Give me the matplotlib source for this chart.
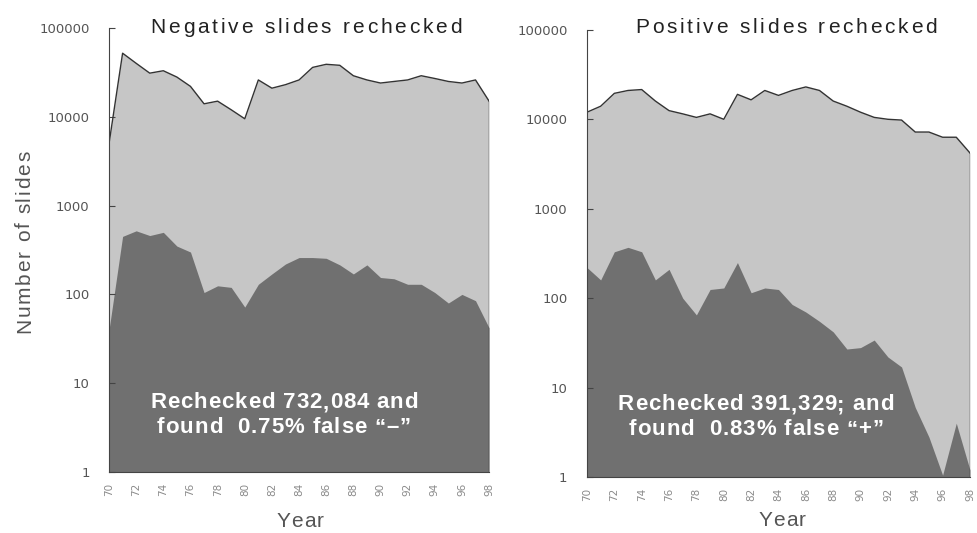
import numpy as np
from matplotlib import pyplot as plt
from matplotlib import font_manager
from matplotlib.ft2font import FT2Font

##########
# Data   #
##########

years = list(range(70, 99))

neg_rechecked = [5000, 52000, 40000, 31000, 33000, 28000, 22000, 14000, 15000, 12000,
                 9500, 26000, 21000, 23000, 26000, 36000, 39000, 38000, 29000, 26000,
                 24000, 25000, 26000, 29000, 27000, 25000, 24000, 26000, 15000]
neg_false = [40, 450, 520, 460, 500, 350, 300, 105, 125, 120,
             72, 130, 170, 220, 260, 260, 255, 215, 170, 215,
             155, 150, 130, 130, 105, 80, 100, 85, 42]

pos_rechecked = [12000, 14000, 19500, 21000, 21500, 16000, 12500, 11500, 10500, 11500,
                 10000, 19000, 16500, 21000, 18500, 21000, 23000, 21000, 16000, 14000,
                 12000, 10500, 10000, 9800, 7200, 7200, 6300, 6300, 4200]
pos_false = [220, 160, 330, 370, 330, 160, 210, 100, 65, 125,
             130, 250, 115, 130, 125, 85, 70, 55, 42, 27,
             28, 34, 22, 17, 6, 2.8, 1.05, 4, 1.2]

titles = ['Negative slides rechecked', 'Positive slides rechecked']
notes = [['Rechecked 732,084 and', 'found  0.75% false \u201c\u2013\u201d'],
         ['Rechecked 391,329; and', 'found  0.83% false \u201c+\u201d']]
y_ticks = [1, 10, 100, 1000, 10000, 100000]
x_ticks = list(range(70, 99, 2))

light = '#c6c6c6'
dark = '#707070'
grey_txt = '#555555'

W, H = 977, 533
fig = plt.figure(figsize=(W / 100, H / 100), dpi=100)
ax1 = fig.add_axes([0.1116, 0.1144, 0.389, 0.8331])
ax2 = fig.add_axes([0.6008, 0.105, 0.392, 0.839])


def spaced(cx, cy, s, size, gap, color, weight='normal', rot=0):
    # letter-spaced text, cx/cy in pixels from top-left, cy (or cx if rotated) is baseline
    prop = font_manager.FontProperties(family='Liberation Sans', size=size, weight=weight)
    f = FT2Font(font_manager.findfont(prop))
    f.set_size(size, 100)
    adv = [f.load_char(ord(c)).linearHoriAdvance / 65536 for c in s]
    total = sum(adv) + gap * (len(s) - 1)
    pos = -total / 2
    for c, a in zip(s, adv):
        if rot == 0:
            x, y = cx + pos, cy
        else:
            x, y = cx, cy - pos
        fig.text(x / W, 1 - y / H, c, fontproperties=prop, color=color,
                 ha='left', va='baseline', rotation=rot, rotation_mode='anchor')
        pos += a + gap


def draw_panel(ax, total, found):
    ax.fill_between(years, 1, total, color=light, lw=0)
    ax.plot(years, total, color='#333333', lw=1.0)
    ax.plot([years[-1], years[-1]], [1, total[-1]], color='#333333', lw=1.0)
    ax.fill_between(years, 1, found, color=dark, lw=0)
    ax.set_yscale('log')
    ax.set_ylim(1, 100000)
    ax.set_xlim(70, 98)
    ax.set_yticks(y_ticks)
    ax.set_yticklabels([str(v) for v in y_ticks])
    ax.minorticks_off()
    ax.set_xticks(x_ticks)
    ax.set_xticklabels([str(v) for v in x_ticks], rotation=90)
    ax.tick_params(axis='y', direction='in', length=4, width=0.8, color='#444444',
                   labelsize=9.5, labelcolor=grey_txt, pad=14)
    ax.tick_params(axis='x', length=0, labelsize=7.5, labelcolor='#8a8a8a', pad=8)
    for s in ['top', 'right']:
        ax.spines[s].set_visible(False)
    ax.spines['left'].set_color('#444444')
    ax.spines['left'].set_linewidth(0.8)
    ax.spines['bottom'].set_color('#444444')
    ax.spines['bottom'].set_linewidth(0.8)


draw_panel(ax1, neg_rechecked, neg_false)
draw_panel(ax2, pos_rechecked, pos_false)

# titles
spaced(306, 33, titles[0], 15, 2.8, '#222222')
spaced(786, 33, titles[1], 15, 2.8, '#222222')

# notes inside the dark area
spaced(284, 408, notes[0][0], 16, 0.9, 'white', weight='bold')
spaced(284, 433, notes[0][1], 16, 0.9, 'white', weight='bold')
spaced(756, 410, notes[1][0], 16, 0.9, 'white', weight='bold')
spaced(756, 435, notes[1][1], 16, 0.9, 'white', weight='bold')

# axis labels
spaced(30, 242, 'Number of slides', 15, 1.7, grey_txt, rot=90)
spaced(300, 527, 'Year', 15, 0.8, grey_txt)
spaced(782, 526, 'Year', 15, 0.8, grey_txt)

plt.savefig('out.png', dpi=100)
